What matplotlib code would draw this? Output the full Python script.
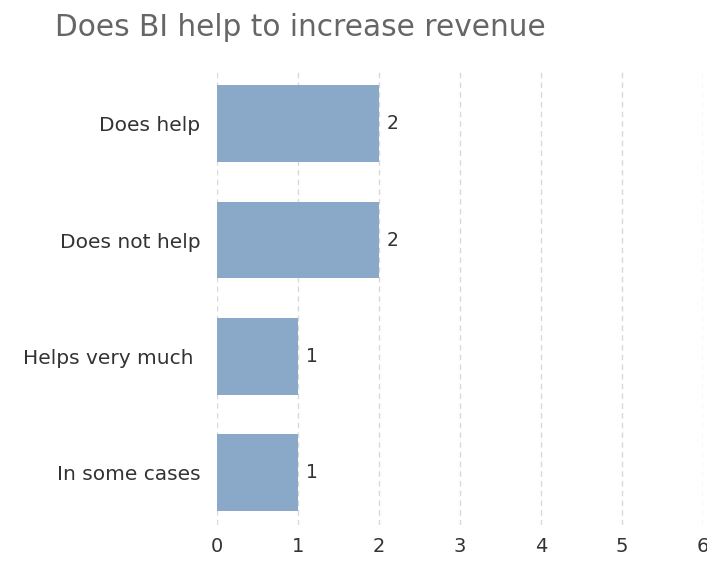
import matplotlib
matplotlib.use("Agg")
import matplotlib.pyplot as plt

# survey answers, top to bottom
answers = ["Does help", "Does not help", "Helps very much ", "In some cases"]
counts = [2, 2, 1, 1]
xticks = [0, 1, 2, 3, 4, 5, 6]

BAR = "#8aa8c8"
GRID = "#d9d9d9"
TEXT = "#333333"

plt.rcParams["font.family"] = ["DejaVu Sans"]

fig = plt.figure(figsize=(7.07, 5.61), dpi=100)
ax = fig.add_axes([217 / 707, 1 - 525 / 561, (703 - 217) / 707, (525 - 68) / 561])

pos = list(range(len(answers)))
ax.barh(pos, counts, height=0.66, color=BAR, zorder=2)
for y, v in zip(pos, counts):
    ax.text(v + 0.1, y, str(v), va="center", ha="left", fontsize=13.5, color=TEXT)

ax.set_xlim(0, 6)
ax.set_ylim(3.45, -0.48)
ax.set_xticks(xticks)
ax.set_xticklabels([str(t) for t in xticks])
ax.set_yticks(pos)
ax.set_yticklabels(answers)
ax.tick_params(axis="y", length=0, pad=12, labelsize=14.5, labelcolor=TEXT)
ax.tick_params(axis="x", length=0, pad=9, labelsize=14, labelcolor=TEXT)
ax.xaxis.grid(True, color=GRID, linestyle=(0, (4, 3)), linewidth=1, zorder=0)
for s in ax.spines.values():
    s.set_visible(False)

fig.text(55 / 707, 1 - 28 / 561, "Does BI help to increase revenue",
         fontsize=21.3, color="#666666", ha="left", va="center")

fig.savefig("out.png", dpi=100)
